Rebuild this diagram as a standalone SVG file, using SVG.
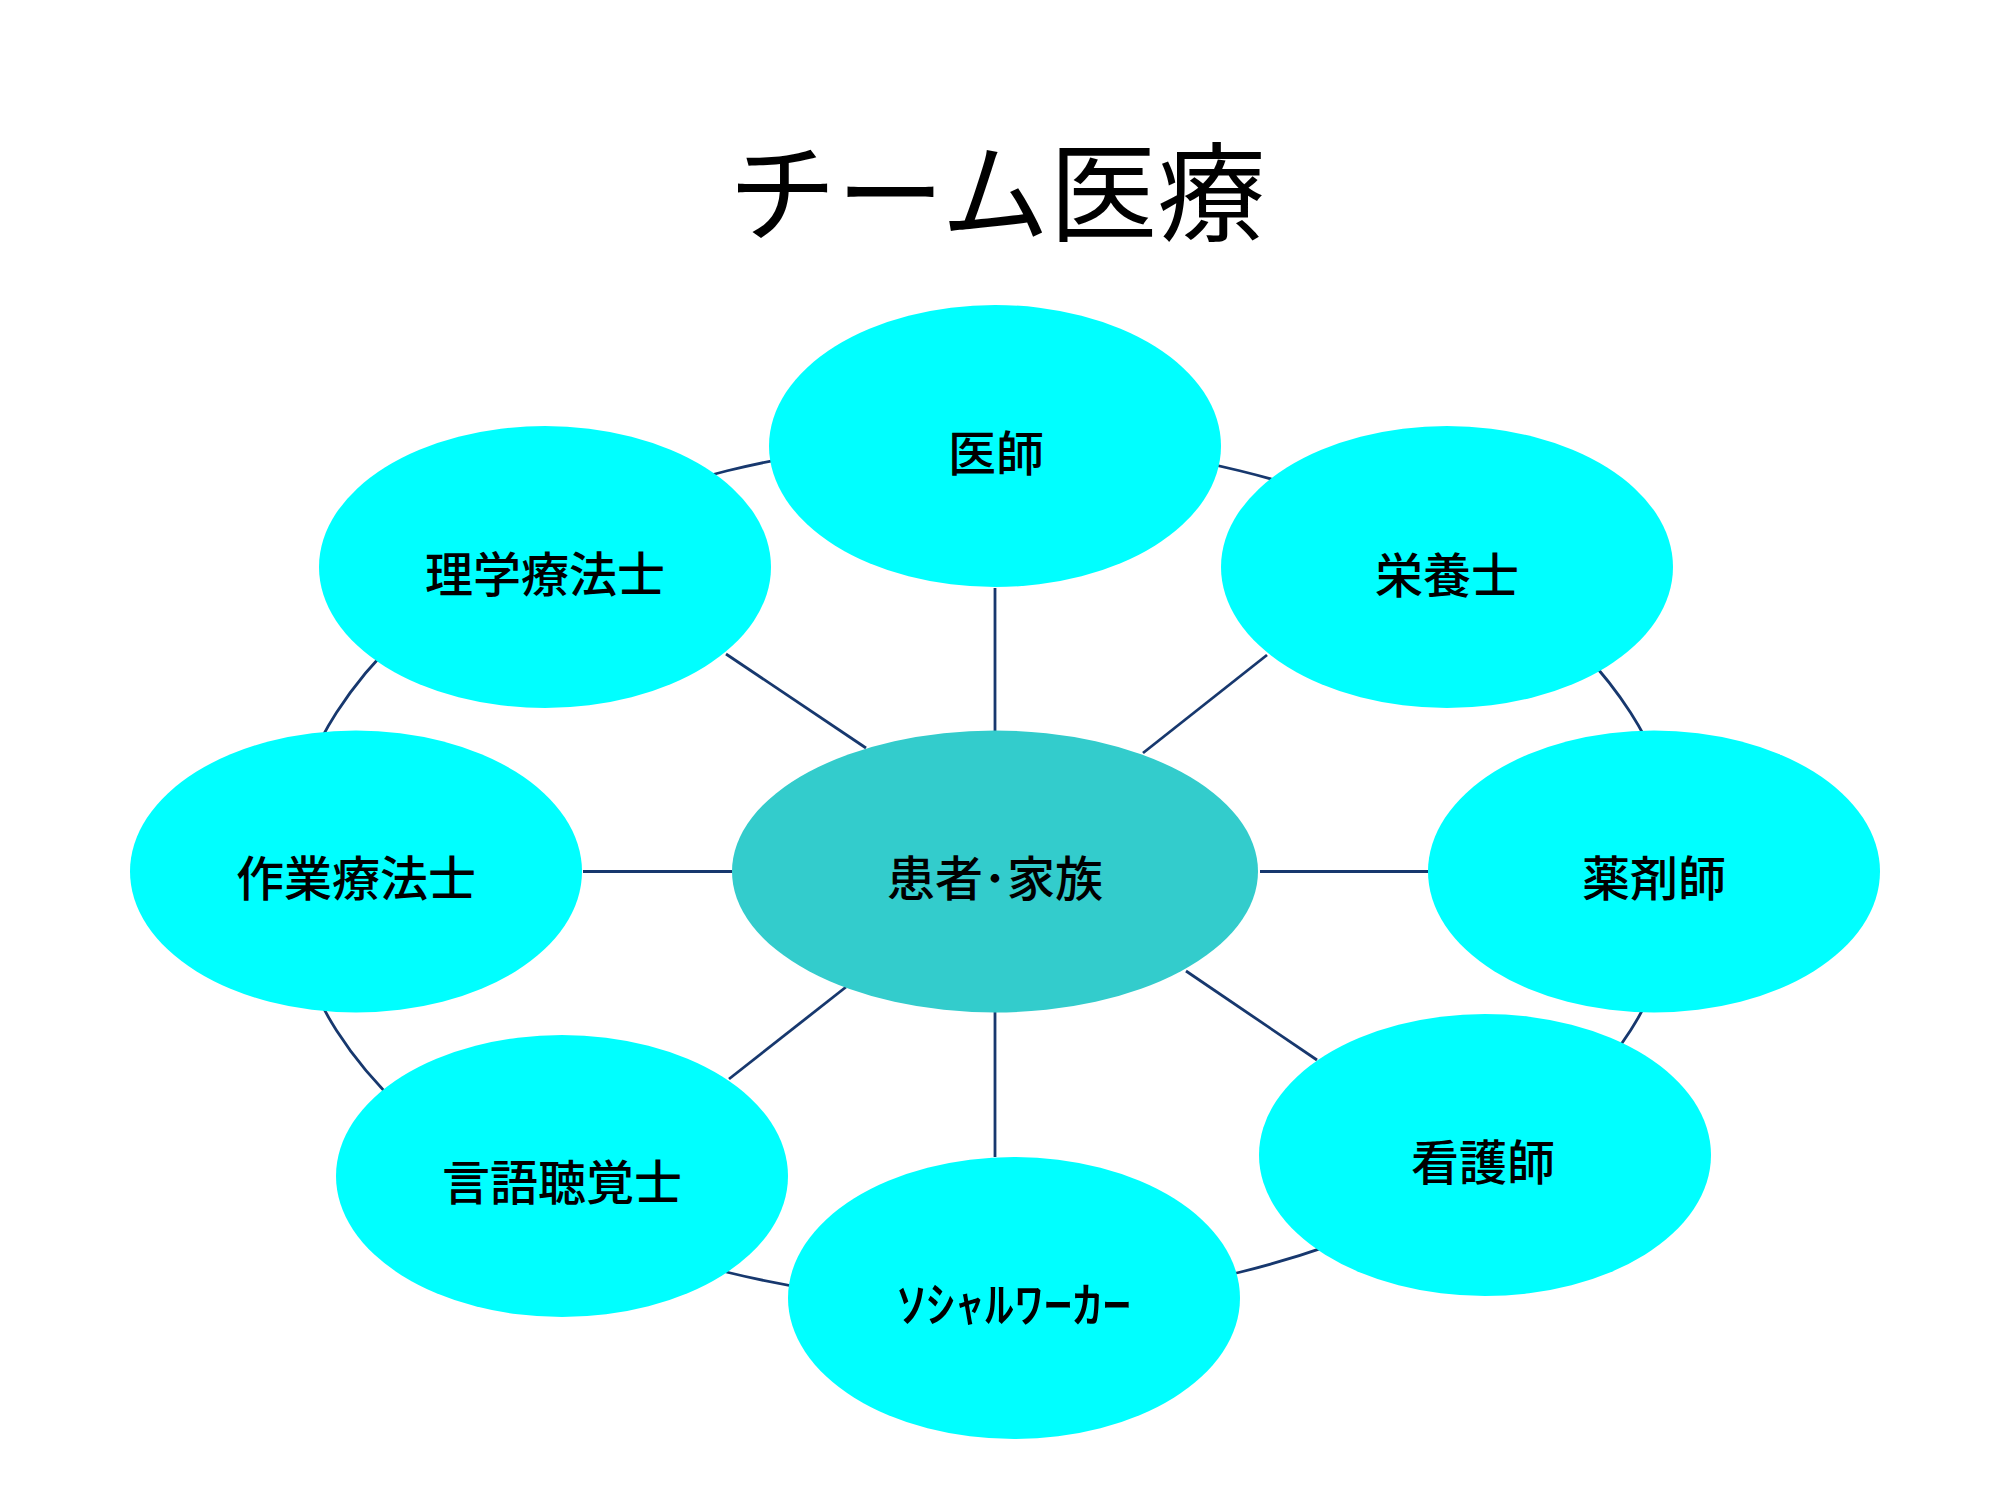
<svg xmlns="http://www.w3.org/2000/svg" width="1995" height="1492" viewBox="0 0 1995 1492">
<style>
.node{fill:#00FFFF;}
.center{fill:#33CCCC;}
.lbl{font-family:"Noto Sans CJK JP","Noto Sans CJK SC",sans-serif;font-size:48px;font-weight:500;fill:#000;text-anchor:middle;dominant-baseline:central;}
.title{font-family:"Noto Sans CJK JP","Noto Sans CJK SC",sans-serif;font-size:108px;fill:#000;text-anchor:middle;dominant-baseline:central;}
.conn{stroke:#17386E;stroke-width:2.8;fill:none;}
</style>
<rect width="1995" height="1492" fill="#FFFFFF"/>
<text class="title" x="997" y="186">チーム医療</text>
<g id="connectors">
<ellipse class="conn" cx="983.5" cy="871.5" rx="696" ry="431"/>
<line class="conn" x1="995" y1="588" x2="995" y2="731"/>
<line class="conn" x1="726" y1="654" x2="866" y2="748"/>
<line class="conn" x1="1267" y1="655" x2="1143" y2="753"/>
<line class="conn" x1="583" y1="871.5" x2="732" y2="871.5"/>
<line class="conn" x1="1260" y1="871.5" x2="1428" y2="871.5"/>
<line class="conn" x1="729" y1="1079" x2="846" y2="987"/>
<line class="conn" x1="1186" y1="971" x2="1317" y2="1060"/>
<line class="conn" x1="995" y1="1012" x2="995" y2="1157"/>
</g>
<g id="node-ishi"><ellipse class="node" cx="995" cy="446" rx="226" ry="141"/><text class="lbl" x="996" y="450">医師</text></g>
<g id="node-rigaku"><ellipse class="node" cx="545" cy="567" rx="226" ry="141"/><text class="lbl" x="545" y="571">理学療法士</text></g>
<g id="node-eiyou"><ellipse class="node" cx="1447" cy="567" rx="226" ry="141"/><text class="lbl" x="1447" y="572">栄養士</text></g>
<g id="node-sagyou"><ellipse class="node" cx="356" cy="871.5" rx="226" ry="141"/><text class="lbl" x="356" y="875">作業療法士</text></g>
<g id="node-kanja"><ellipse class="center" cx="995" cy="871.5" rx="263" ry="141"/><text class="lbl" x="995" y="875">患者･家族</text></g>
<g id="node-yakuzai"><ellipse class="node" cx="1654" cy="871.5" rx="226" ry="141"/><text class="lbl" x="1654" y="875">薬剤師</text></g>
<g id="node-gengo"><ellipse class="node" cx="562" cy="1176" rx="226" ry="141"/><text class="lbl" x="562" y="1179">言語聴覚士</text></g>
<g id="node-social"><ellipse class="node" cx="1014" cy="1298" rx="226" ry="141"/><text class="lbl" x="1014" y="1301" textLength="235" lengthAdjust="spacingAndGlyphs">ｿｼｬﾙﾜｰｶｰ</text></g>
<g id="node-kango"><ellipse class="node" cx="1485" cy="1155" rx="226" ry="141"/><text class="lbl" x="1483" y="1159">看護師</text></g>
</svg>
